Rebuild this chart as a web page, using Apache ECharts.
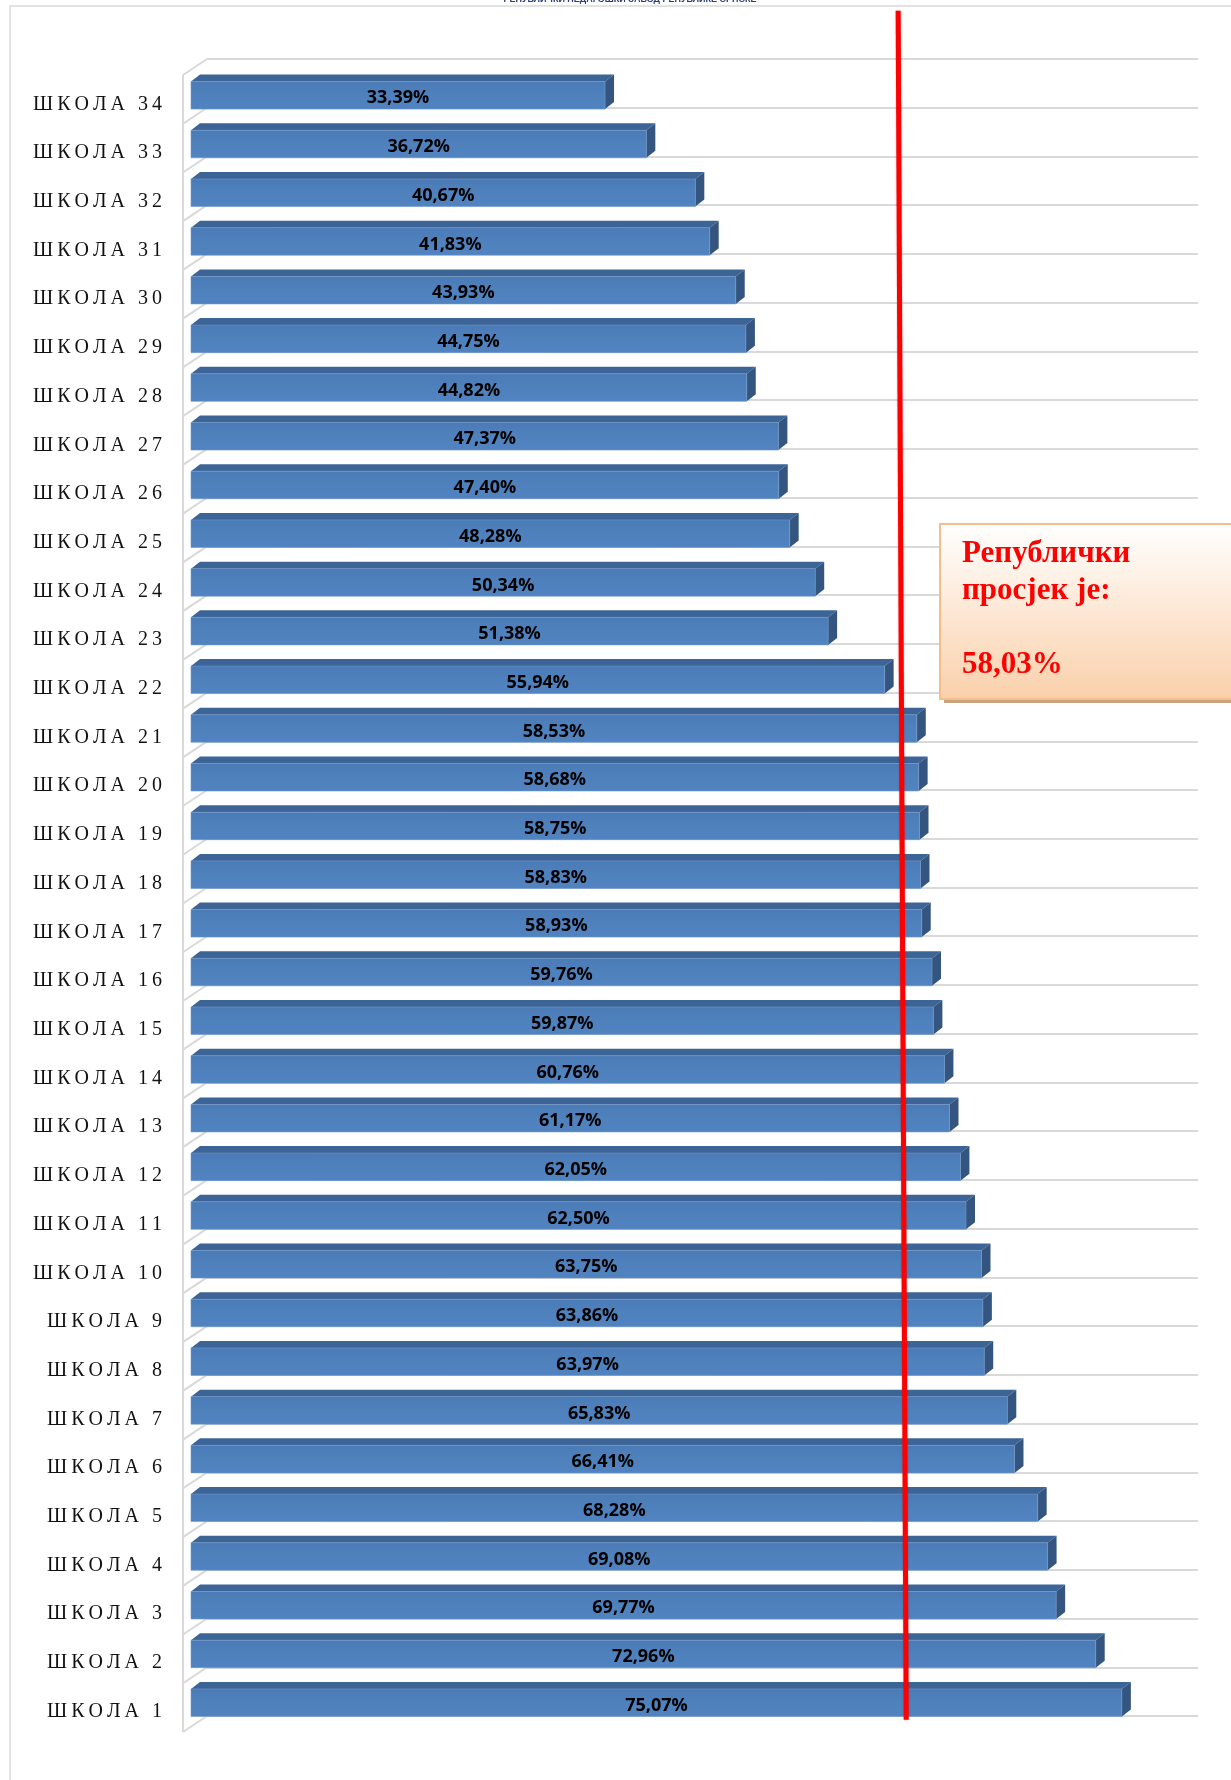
<!DOCTYPE html>
<html>
<head>
<meta charset="utf-8">
<title>Школе</title>
<script src="https://cdn.jsdelivr.net/npm/echarts@6/dist/echarts.min.js"></script>
<style>
  html, body { margin: 0; padding: 0; background: #fff; }
  #chart { width: 1231px; height: 1780px; }
</style>
</head>
<body>
<div id="chart"></div>
<script>
// categories, bottom to top (ШКОЛА 1 at the bottom)
var schools = ['ШКОЛА 1', 'ШКОЛА 2', 'ШКОЛА 3', 'ШКОЛА 4', 'ШКОЛА 5', 'ШКОЛА 6', 'ШКОЛА 7',
  'ШКОЛА 8', 'ШКОЛА 9', 'ШКОЛА 10', 'ШКОЛА 11', 'ШКОЛА 12', 'ШКОЛА 13', 'ШКОЛА 14',
  'ШКОЛА 15', 'ШКОЛА 16', 'ШКОЛА 17', 'ШКОЛА 18', 'ШКОЛА 19', 'ШКОЛА 20', 'ШКОЛА 21',
  'ШКОЛА 22', 'ШКОЛА 23', 'ШКОЛА 24', 'ШКОЛА 25', 'ШКОЛА 26', 'ШКОЛА 27', 'ШКОЛА 28',
  'ШКОЛА 29', 'ШКОЛА 30', 'ШКОЛА 31', 'ШКОЛА 32', 'ШКОЛА 33', 'ШКОЛА 34'];
var results = [75.07, 72.96, 69.77, 69.08, 68.28, 66.41, 65.83, 63.97, 63.86, 63.75,
  62.50, 62.05, 61.17, 60.76, 59.87, 59.76, 58.93, 58.83, 58.75, 58.68,
  58.53, 55.94, 51.38, 50.34, 48.28, 47.40, 47.37, 44.82, 44.75, 43.93,
  41.83, 40.67, 36.72, 33.39];
var average = 58.03;
// hand drawn red line: value where it sits at the top / bottom end
var redLineX = [57.03, 57.68];
var valueMax = 80;

function pct(v) {
  return v.toFixed(2).replace('.', ',') + '%';
}

var chart = echarts.init(document.getElementById('chart'));

var option = {
  animation: false,
  backgroundColor: '#fff',
  grid: [
    // front plane (bars)
    { left: 191, top: 71, width: 992, height: 1656 },
    // back wall (gridlines)
    { left: 207, top: 59, width: 991, height: 1657 }
  ],
  xAxis: [
    { type: 'value', gridIndex: 0, min: 0, max: valueMax, show: false },
    { type: 'value', gridIndex: 1, min: 0, max: valueMax, show: false }
  ],
  yAxis: [
    {
      type: 'category',
      gridIndex: 0,
      data: schools,
      axisLine: { show: false },
      axisTick: { show: false },
      splitLine: { show: false },
      axisLabel: {
        interval: 0,
        margin: 27,
        padding: [18, 0, 0, 0],
        color: '#000',
        formatter: function (v) {
          return v.split('').map(function (ch) { return '{c|' + ch + '}'; }).join('');
        },
        rich: {
          c: {
            fontFamily: 'Liberation Serif',
            fontSize: 20,
            color: '#111',
            padding: [0, 2, 0, 2]
          }
        }
      }
    },
    {
      type: 'category',
      gridIndex: 1,
      data: schools,
      axisLine: { show: false },
      axisTick: { show: false },
      axisLabel: { show: false },
      splitLine: {
        show: true,
        interval: 0,
        lineStyle: { color: '#D9D9D9', width: 2 }
      }
    }
  ],
  series: [
    {
      // left side wall of the 3D plot
      name: 'wall',
      type: 'custom',
      xAxisIndex: 1,
      yAxisIndex: 1,
      silent: true,
      z: 1,
      data: schools.map(function (s, i) { return [0, i]; }),
      renderItem: function (params, api) {
        var i = api.value(1);
        var p = api.coord([0, i]);
        var band = api.size([0, 1])[1];
        var st = { stroke: '#D9D9D9', lineWidth: 2 };
        var yb = p[1] + band / 2;
        var kids = [{
          type: 'line',
          shape: { x1: p[0], y1: yb, x2: p[0] - 24, y2: yb + 16 },
          style: st
        }];
        if (i === schools.length - 1) {
          var yt = p[1] - band / 2;
          kids.push({
            type: 'line',
            shape: { x1: p[0], y1: yt, x2: p[0] - 24, y2: yt + 16 },
            style: st
          });
          kids.push({
            type: 'line',
            shape: { x1: p[0] - 24, y1: yt + 16, x2: p[0] - 24, y2: yt + 16 + band * schools.length },
            style: st
          });
        }
        return { type: 'group', children: kids };
      }
    },
    {
      name: 'Резултат',
      type: 'custom',
      xAxisIndex: 0,
      yAxisIndex: 0,
      z: 3,
      encode: { x: 0, y: 1 },
      data: results.map(function (v, i) { return [v, i]; }),
      renderItem: function (params, api) {
        var v = api.value(0);
        var i = api.value(1);
        var p0 = api.coord([0, i]);
        var p1 = api.coord([v, i]);
        var band = api.size([0, 1])[1];
        var h = band * 0.565;
        var dx = 9, dy = -7;
        var y0 = p0[1] - h / 2;
        return {
          type: 'group',
          children: [
            {
              type: 'polygon',
              shape: { points: [[p0[0], y0], [p0[0] + dx, y0 + dy], [p1[0] + dx, y0 + dy], [p1[0], y0]] },
              style: { fill: '#3C6496' }
            },
            {
              type: 'polygon',
              shape: { points: [[p1[0], y0], [p1[0] + dx, y0 + dy], [p1[0] + dx, y0 + dy + h], [p1[0], y0 + h]] },
              style: { fill: '#34557F' }
            },
            {
              type: 'rect',
              shape: { x: p0[0], y: y0, width: p1[0] - p0[0], height: h },
              style: {
                fill: new echarts.graphic.LinearGradient(0, 0, 0, 1, [
                  { offset: 0, color: '#4A7BB7' },
                  { offset: 0.5, color: '#4F81BD' },
                  { offset: 1, color: '#5083C0' }
                ]),
                stroke: '#6F97C8',
                lineWidth: 0.6
              }
            },
            {
              type: 'text',
              x: (p0[0] + p1[0]) / 2,
              y: p0[1] + 3,
              style: {
                text: pct(v),
                font: 'bold 18px "Open Sans"',
                fill: '#000',
                align: 'center',
                verticalAlign: 'middle'
              }
            }
          ]
        };
      }
    },
    {
      // red average line, drawn past the plot top like in the source
      name: 'Републички просјек',
      type: 'custom',
      xAxisIndex: 0,
      yAxisIndex: 0,
      silent: true,
      z: 5,
      data: [[redLineX[0], redLineX[1]]],
      renderItem: function (params, api) {
        var n = schools.length;
        var band = api.size([0, 1])[1];
        var top = api.coord([api.value(0), n - 1]);
        var bot = api.coord([api.value(1), 0]);
        return {
          type: 'line',
          shape: {
            x1: top[0], y1: top[1] - 1.735 * band,
            x2: bot[0], y2: bot[1] + 0.35 * band
          },
          style: { stroke: '#FF0000', lineWidth: 5, shadowColor: 'rgba(150,0,0,0.35)', shadowBlur: 2 }
        };
      }
    }
  ],
  graphic: [
    {
      type: 'rect',
      z: -10,
      shape: { x: 10, y: 6, width: 1260, height: 1800 },
      style: { fill: 'none', stroke: '#D9D9D9', lineWidth: 1.5 }
    },
    {
      type: 'text',
      x: 630,
      y: -5,
      z: 10,
      style: {
        text: 'РЕПУБЛИЧКИ ПЕДАГОШКИ ЗАВОД РЕПУБЛИКЕ СРПСКЕ',
        font: 'bold 9px "Liberation Sans"',
        fill: '#2B3A7A',
        align: 'center'
      }
    },
    {
      type: 'rect',
      z: 100,
      shape: { x: 944, y: 528, width: 300, height: 175 },
      style: { fill: '#C9A27E' }
    },
    {
      type: 'rect',
      z: 101,
      shape: { x: 940, y: 524, width: 300, height: 175 },
      style: {
        fill: new echarts.graphic.LinearGradient(0, 0, 0, 1, [
          { offset: 0, color: '#FFFFFF' },
          { offset: 1, color: '#FAD0AA' }
        ]),
        stroke: '#F6BD8A',
        lineWidth: 2
      }
    },
    {
      type: 'text',
      z: 102,
      x: 962,
      y: 535,
      style: {
        text: 'Републички\nпросјек је:\n\n' + pct(average),
        font: 'bold 31px "Liberation Serif"',
        fill: '#FF0000',
        lineHeight: 37
      }
    }
  ]
};

chart.setOption(option);
</script>
</body>
</html>
